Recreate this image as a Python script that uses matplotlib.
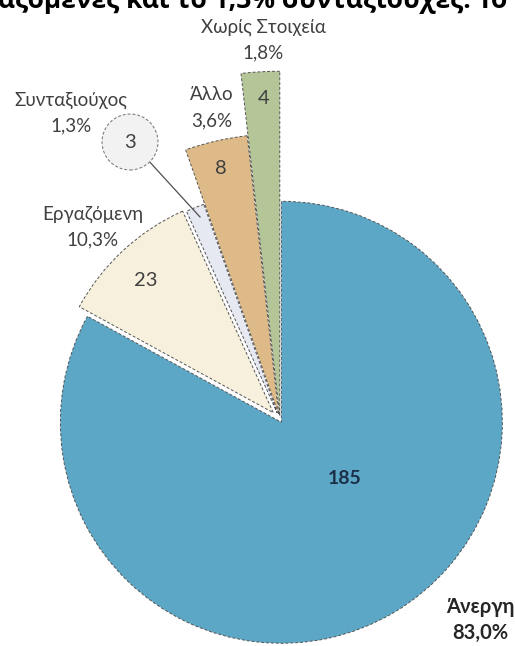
import numpy as np
import matplotlib.pyplot as plt
from matplotlib.patches import Circle

plt.rcParams['font.family'] = ['Lato', 'DejaVu Sans']

# data
labels = ['Άνεργη', 'Εργαζόμενη', 'Συνταξιούχος', 'Άλλο', 'Χωρίς Στοιχεία']
counts = [185, 23, 3, 8, 4]
colors = ['#5DA7C6', '#F6F0DC', '#E6E8F2', '#DDBA88', '#B4C597']
radius_scale = [1.0, 1.0, 1.0, 1.27, 1.56]   # each slice drawn with its own length
explode = [0.012, 0.045, 0.035, 0.025, 0.018]

W, H = 515, 646
cx, cy, R = 280, H - 420, 221

fig = plt.figure(figsize=(W / 100, H / 100), dpi=100)
ax = fig.add_axes([0, 0, 1, 1])

# pie adds the explode offset in data units, so scale it by the radius
wedges, _ = ax.pie(counts, colors=colors, radius=R, center=(cx, cy),
                   startangle=90, counterclock=False,
                   explode=[e * R for e in explode],
                   wedgeprops=dict(edgecolor='#555555', linewidth=0.7,
                                   linestyle=(0, (3, 2))))
for w, s in zip(wedges, radius_scale):
    w.set_radius(R * s)

ax.set_xlim(0, W)
ax.set_ylim(0, H)
ax.set_aspect('equal')
ax.axis('off')

total = sum(counts)
pct = [f"{c / total * 100:.1f}%".replace('.', ',') for c in counts]

grey = '#404040'
fs = 13.5

def y(p):
    return H - p

# category labels (name + percentage)
lab_pos = [(480, 607), (93, 214), (71, 100), (212, 95), (263, 27)]
for i, (lx, ly) in enumerate(lab_pos):
    if i == 0:
        ax.text(lx, y(ly), labels[i], ha='center', va='center', fontsize=14.5,
                color='#262626', fontweight='bold')
        ax.text(lx, y(ly + 26), pct[i], ha='center', va='center', fontsize=14.5,
                color='#262626', fontweight='bold')
    else:
        ax.text(lx, y(ly), labels[i], ha='center', va='center', fontsize=fs, color=grey)
        ax.text(lx, y(ly + 26), pct[i], ha='center', va='center', fontsize=fs, color=grey)

# value labels
ax.text(345, y(478), str(counts[0]), ha='center', va='center', fontsize=14,
        color='#1B3048', fontweight='bold')
ax.text(146, y(281), str(counts[1]), ha='center', va='center', fontsize=14.5, color=grey)
ax.text(221, y(168), str(counts[3]), ha='center', va='center', fontsize=14.5, color=grey)
ax.text(264, y(98), str(counts[4]), ha='center', va='center', fontsize=14.5, color=grey)

# callout bubble for the small slice
ax.plot([147, 200], [y(159), y(217)], color='#505050', lw=0.9)
ax.add_patch(Circle((130, y(142)), 28, facecolor='#F2F2F2', edgecolor='#707070',
                    lw=0.7, linestyle=(0, (3, 2)), zorder=3))
ax.text(130, y(143), str(counts[2]), ha='center', va='center', fontsize=14.5,
        color=grey, zorder=4)

# title line cut off at the top of the picture
fig.text(-2 / W, 1 - 8 / H, 'αζόμενες και το 1,3% συνταξιούχες. Το',
         ha='left', va='baseline', fontsize=19, fontweight='bold', color='black',
         family=['Open Sans', 'DejaVu Sans'])

fig.savefig('out.png', dpi=100)
